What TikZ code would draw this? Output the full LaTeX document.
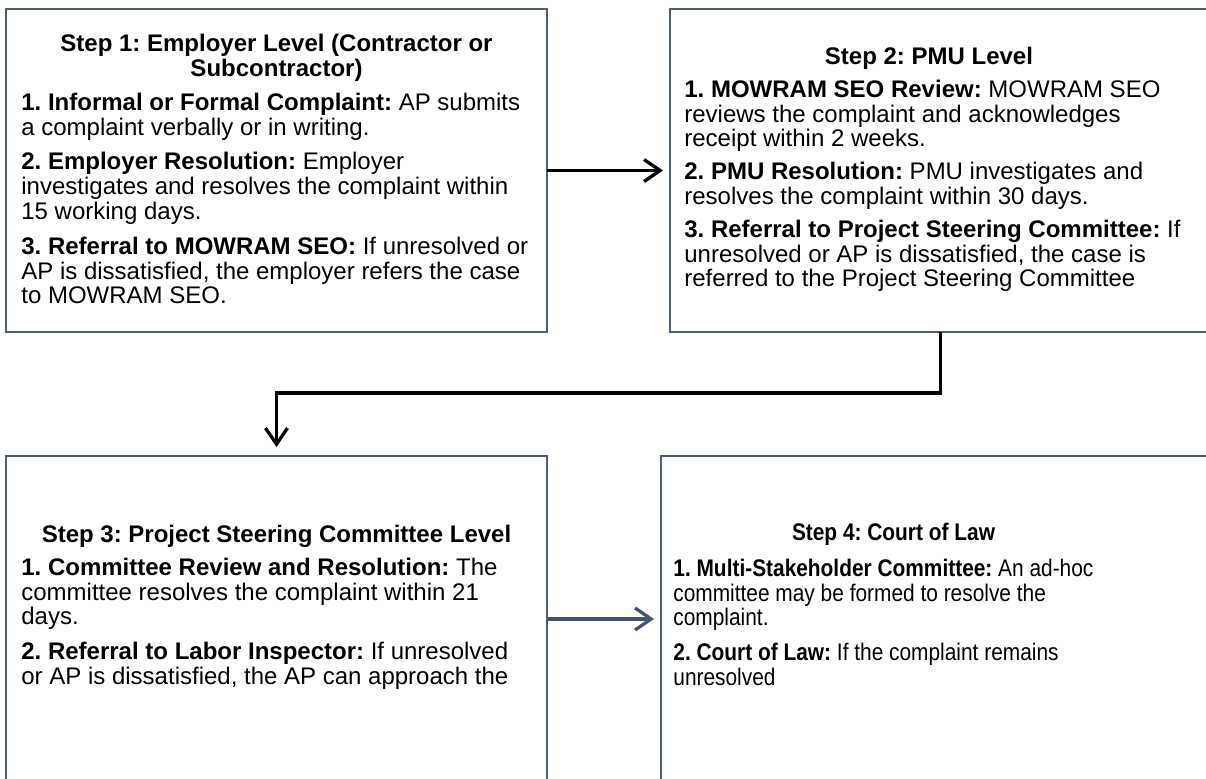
\documentclass[tikz,border=0pt]{standalone}
\usepackage{fontspec}
\setmainfont{Liberation Sans}
\newfontfamily\narrowsans[FakeStretch=0.87]{Liberation Sans}
\usetikzlibrary{positioning,arrows.meta}
\frenchspacing
\definecolor{boxline}{HTML}{4F5E76}
\definecolor{slatearrow}{HTML}{44546A}
\tikzset{
  stepbox/.style={draw=boxline, line width=1.4pt, minimum width=270.5pt, inner sep=0pt, outer sep=0pt},
  stephead/.style={anchor=north, align=center, inner sep=0pt, font=\fontsize{12}{12.4}\selectfont\bfseries},
  stepitems/.style={anchor=north west, align=left, inner sep=0pt, font=\fontsize{12}{12.4}\selectfont},
  flow/.style={line width=1.65pt, -{Straight Barb[length=8pt,width=11pt]}, shorten >=3.5pt}
}

\begin{document}
\begin{tikzpicture}[x=0.5pt, y=-0.5pt]
\useasboundingbox (0,0) rectangle (1206,778);
\clip (0,0) rectangle (1206,778);

\node[stepbox, minimum height=161.5pt, anchor=north west] (s1) at (6,9) {};
\node[stepbox, minimum height=161.5pt, right=61.5pt of s1] (s2) {};
\node[stepbox, minimum height=163pt, below=62pt of s1] (s3) {};
\node[stepbox, minimum height=163pt, minimum width=276pt, right=57pt of s3] (s4) {};

\node[stephead] (h1) at ([shift={(0,24.5)}]s1.north) {Step 1: Employer Level (Contractor or\\Subcontractor)};
\node[stepitems] (t1) at ([shift={(15,83.5)}]s1.north west) {\textbf{1. Informal or Formal Complaint:} AP submits\\a complaint verbally or in writing.\\[5pt]
\textbf{2. Employer Resolution:} Employer\\investigates and resolves the complaint within\\15 working days.\\[5pt]
\textbf{3. Referral to MOWRAM SEO:} If unresolved or\\AP is dissatisfied, the employer refers the case\\to MOWRAM SEO.};

\node[stephead] (h2) at ([shift={(-11.5,37.5)}]s2.north) {Step 2: PMU Level};
\node[stepitems] (t2) at ([shift={(14,70.5)}]s2.north west) {\textbf{1. MOWRAM SEO Review:} MOWRAM SEO\\reviews the complaint and acknowledges\\receipt within 2 weeks.\\[4pt]
\textbf{2. PMU Resolution:} PMU investigates and\\resolves the complaint within 30 days.\\[4pt]
\textbf{3. Referral to Project Steering Committee:} If\\unresolved or AP is dissatisfied, the case is\\referred to the Project Steering Committee};

\node[stephead] (h3) at ([shift={(0,68.5)}]s3.north) {Step 3: Project Steering Committee Level};
\node[stepitems] (t3) at ([shift={(15,101.5)}]s3.north west) {\textbf{1. Committee Review and Resolution:} The\\committee resolves the complaint within 21\\days.\\[5pt]
\textbf{2. Referral to Labor Inspector:} If unresolved\\or AP is dissatisfied, the AP can approach the};

\node[stephead, font=\narrowsans\fontsize{12}{12.4}\selectfont\bfseries] (h4) at ([shift={(-43.5,66.5)}]s4.north) {Step 4: Court of Law};
\node[stepitems, font=\narrowsans\fontsize{12}{12.4}\selectfont] (t4) at ([shift={(12,102.5)}]s4.north west) {\textbf{1. Multi-Stakeholder Committee:} An ad-hoc\\committee may be formed to resolve the\\complaint.\\[5pt]
\textbf{2. Court of Law:} If the complaint remains\\unresolved};

\draw[flow] (s1.east) -- (s2.west);
\draw[flow, shorten >=4.5pt] (s2.south) -- ++(0,61) -| (s3.north);
\draw[flow, slatearrow] (s3.east) -- (s4.west);
\end{tikzpicture}
\end{document}
